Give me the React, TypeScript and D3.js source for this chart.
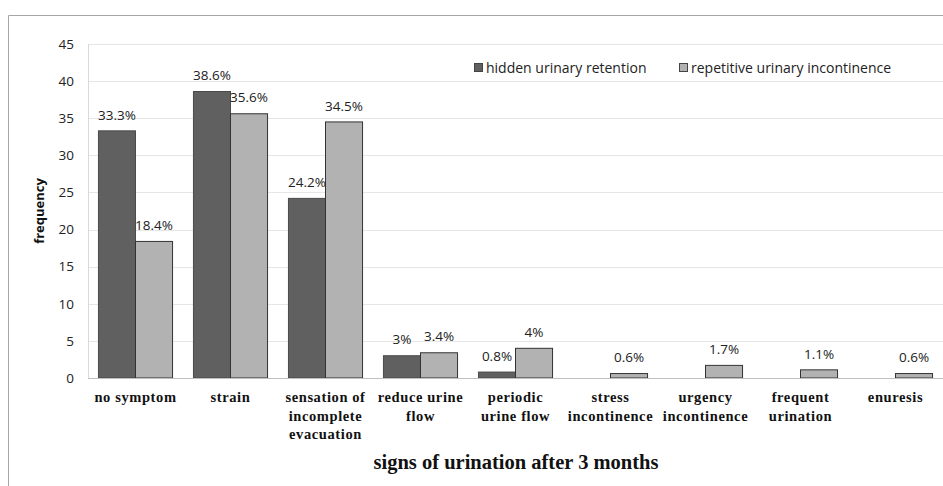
import React from 'react';
import * as d3 from 'd3';

const categories = [
  'no symptom|',
  'strain',
  'sensation of|incomplete|evacuation',
  'reduce urine|flow',
  'periodic|urine flow',
  'stress|incontinence',
  'urgency|incontinence',
  'frequent|urination',
  'enuresis',
];
const retention = [33.3, 38.6, 24.2, 3, 0.8, null, null, null, null];
const incontinence = [18.4, 35.6, 34.5, 3.4, 4, 0.6, 1.7, 1.1, 0.6];
const seriesNames = ['hidden urinary retention', 'repetitive urinary incontinence'];
const yTicks = [0, 5, 10, 15, 20, 25, 30, 35, 40, 45];

const W = 943;
const H = 486;
const margin = { top: 44, left: 88, bottom: 108 };
const colors = ['#606060', '#b2b2b2'];

export default function App() {
  const x = d3.scaleBand<number>()
    .domain(categories.map((_, i) => i))
    .range([margin.left, W])
    .paddingInner(0.22)
    .paddingOuter(0.11);
  const sub = d3.scaleBand<number>().domain([0, 1]).range([0, x.bandwidth()]);
  const y = d3.scaleLinear().domain([0, 45]).range([H - margin.bottom, margin.top]);

  const series = [retention, incontinence];
  const sans = "'Open Sans', sans-serif";
  const serif = "'Liberation Serif', 'Times New Roman', serif";

  return (
    <svg width={W} height={H} style={{ position: 'absolute', left: 0, top: 0 }}>
      <rect width={W} height={H} fill="#fff" />
      {/* outer frame */}
      <line x1={8.5} x2={W} y1={15.5} y2={15.5} stroke="#a6a6a6" />
      <line x1={8.5} x2={8.5} y1={15.5} y2={H} stroke="#a6a6a6" />

      {/* gridlines */}
      {yTicks.filter(t => t > 0).map(t => (
        <line key={t} x1={margin.left} x2={W} y1={Math.round(y(t)) + 0.5} y2={Math.round(y(t)) + 0.5}
          stroke="#e6e6e6" />
      ))}
      <line x1={margin.left + 0.5} x2={margin.left + 0.5} y1={margin.top} y2={y(0)} stroke="#d9d9d9" />

      {/* y ticks */}
      {yTicks.map(t => (
        <text key={t} x={74} y={y(t)} dy="0.35em" textAnchor="end" fontFamily={sans} fontSize={13.5} fill="#222">
          {t}
        </text>
      ))}

      {/* bars */}
      {series.map((vals, s) =>
        vals.map((v, i) => v == null ? null : (
          <rect key={`${s}-${i}`} x={(x(i) as number) + (sub(s) as number)} y={y(v)}
            width={sub.bandwidth()} height={y(0) - y(v)}
            fill={colors[s]} stroke={s === 0 ? '#4a4a4a' : '#333'} strokeWidth={1} />
        ))
      )}
      <line x1={margin.left} x2={W} y1={y(0) + 0.5} y2={y(0) + 0.5} stroke="#bfbfbf" />

      {/* value labels */}
      {series.map((vals, s) =>
        vals.map((v, i) => v == null ? null : (
          <text key={`l${s}-${i}`} x={(x(i) as number) + (sub(s) as number) + sub.bandwidth() / 2}
            y={y(v) - 16} dy="0.35em" textAnchor="middle" fontFamily={sans} fontSize={13.5} fill="#222">
            {v}%
          </text>
        ))
      )}

      {/* category labels */}
      {categories.map((c, i) => (
        <text key={c} textAnchor="middle" fontFamily={serif} fontWeight="bold" fontSize={14.5}
          letterSpacing={0.6} fill="#111">
          {c.split('|').filter(Boolean).map((line, k) => (
            <tspan key={k} x={(x(i) as number) + x.bandwidth() / 2} y={402 + k * 18.5}>{line}</tspan>
          ))}
        </text>
      ))}

      {/* axis titles */}
      <text x={516} y={469} textAnchor="middle" fontFamily={serif} fontWeight="bold" fontSize={20.5} fill="#111">
        signs of urination after 3 months
      </text>
      <text transform={`translate(44,${(y(0) + y(45)) / 2}) rotate(-90)`} textAnchor="middle"
        fontFamily={sans} fontWeight="bold" fontSize={13} fill="#111">
        frequency
      </text>

      {/* legend */}
      {seriesNames.map((n, s) => {
        const lx = s === 0 ? 474 : 679;
        return (
          <g key={n}>
            <rect x={lx + 0.5} y={63.5} width={8} height={8} fill={colors[s]} stroke="#444" />
            <text x={lx + 12} y={68} dy="0.35em" fontFamily={sans} fontSize={14} fill="#222">{n}</text>
          </g>
        );
      })}
    </svg>
  );
}
